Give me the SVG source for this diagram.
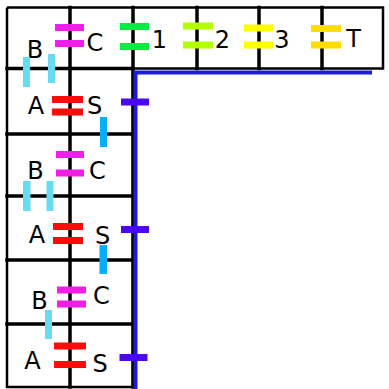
<svg xmlns="http://www.w3.org/2000/svg" width="389" height="389" viewBox="0 0 389 389">
  <style>
    .grid { fill: none; stroke: #000; stroke-width: 3.5; stroke-linecap: square; }
    .outer { fill: none; stroke: #000; stroke-width: 2.5; }
    .lbl { font-family: "DejaVu Sans", Verdana, sans-serif; font-size: 24px; fill: #000; text-anchor: middle; }
    .mag { fill: #f01ee6; }
    .red { fill: #ff0a0a; }
    .grn { fill: #00ee44; }
    .lim { fill: #b4ff00; }
    .yel { fill: #ffff00; }
    .gld { fill: #ffdd00; }
    .lcy { fill: #66dcee; }
    .dcy { fill: #00b0ff; }
    .tick { fill: #4a08ee; }
    .rail { fill: none; stroke: #1c1cdc; stroke-width: 4; }
  </style>
  <rect width="389" height="389" fill="#fff"/>

  <!-- grid: top row of six cells, left block of two columns -->
  <g id="grid">
    <path class="outer" d="M7,7.5 H383 V68.5 H133 M7,7.5 V387 H133 V68.5"/>
    <path class="grid" d="M7,68.5 H133 M7,134 H133 M7,196 H133 M7,260 H133 M7,324 H133
                          M70,7.5 V387 M133,7.5 V387 M197,7.5 V68.5 M259,7.5 V68.5 M322,7.5 V68.5"/>
  </g>

  <!-- top row cells -->
  <g id="cell-B-C-top">
    <text class="lbl" x="35" y="58">B</text>
    <text class="lbl" x="95" y="50.5">C</text>
    <rect class="mag" x="55" y="24" width="29" height="7"/>
    <rect class="mag" x="55" y="40" width="29" height="7"/>
  </g>
  <g id="cell-1">
    <text class="lbl" x="159.5" y="47.5">1</text>
    <rect class="grn" x="120" y="23" width="29" height="7"/>
    <rect class="grn" x="120" y="43" width="29" height="7"/>
  </g>
  <g id="cell-2">
    <text class="lbl" x="222.5" y="47.5">2</text>
    <rect class="lim" x="183" y="22.5" width="30" height="7"/>
    <rect class="lim" x="183" y="41.5" width="30" height="7"/>
  </g>
  <g id="cell-3">
    <text class="lbl" x="282" y="47.5">3</text>
    <rect class="yel" x="244" y="24.5" width="29" height="7"/>
    <rect class="yel" x="244" y="41.5" width="29" height="7"/>
  </g>
  <g id="cell-T">
    <text class="lbl" x="353.5" y="47">T</text>
    <rect class="gld" x="311" y="25" width="30" height="7"/>
    <rect class="gld" x="311" y="41.5" width="30" height="7"/>
  </g>

  <!-- left block rows -->
  <g id="row-A-S-1">
    <text class="lbl" x="36" y="113.5">A</text>
    <text class="lbl" x="94.5" y="114">S</text>
    <rect class="red" x="52" y="96" width="31" height="7"/>
    <rect class="red" x="52" y="108.5" width="31" height="7"/>
  </g>
  <g id="row-B-C-2">
    <text class="lbl" x="35.5" y="178.5">B</text>
    <text class="lbl" x="97.5" y="179">C</text>
    <rect class="mag" x="56" y="151" width="28" height="7"/>
    <rect class="mag" x="56" y="169.5" width="28" height="7"/>
  </g>
  <g id="row-A-S-2">
    <text class="lbl" x="37" y="242.5">A</text>
    <text class="lbl" x="102.5" y="243.5">S</text>
    <rect class="red" x="53" y="223" width="30" height="7"/>
    <rect class="red" x="53" y="237" width="30" height="7"/>
  </g>
  <g id="row-B-C-3">
    <text class="lbl" x="39.5" y="309">B</text>
    <text class="lbl" x="101.5" y="304">C</text>
    <rect class="mag" x="57" y="286.5" width="29" height="7"/>
    <rect class="mag" x="57" y="300.5" width="29" height="7"/>
  </g>
  <g id="row-A-S-3">
    <text class="lbl" x="32.5" y="369">A</text>
    <text class="lbl" x="100" y="371.5">S</text>
    <rect class="red" x="54" y="342.5" width="32" height="7"/>
    <rect class="red" x="54" y="361" width="32" height="7"/>
  </g>

  <!-- connectors: vertical links across row lines and the blue rail -->
  <g id="connectors">
    <rect class="lcy" x="23" y="57" width="7" height="30"/>
    <rect class="lcy" x="48" y="54" width="7" height="29"/>
    <rect class="lcy" x="23" y="181" width="7.5" height="30"/>
    <rect class="lcy" x="46.5" y="181" width="7" height="30"/>
    <rect class="lcy" x="45" y="310" width="7" height="29"/>
    <rect class="dcy" x="100" y="117" width="7" height="30"/>
    <rect class="dcy" x="99.5" y="245" width="7.5" height="29"/>
    <path class="rail" d="M135.5,389 V72.5 H372"/>
    <rect class="tick" x="121" y="98.5" width="28" height="7"/>
    <rect class="tick" x="121" y="226" width="28" height="7"/>
    <rect class="tick" x="119.5" y="354" width="28" height="7"/>
  </g>
</svg>
